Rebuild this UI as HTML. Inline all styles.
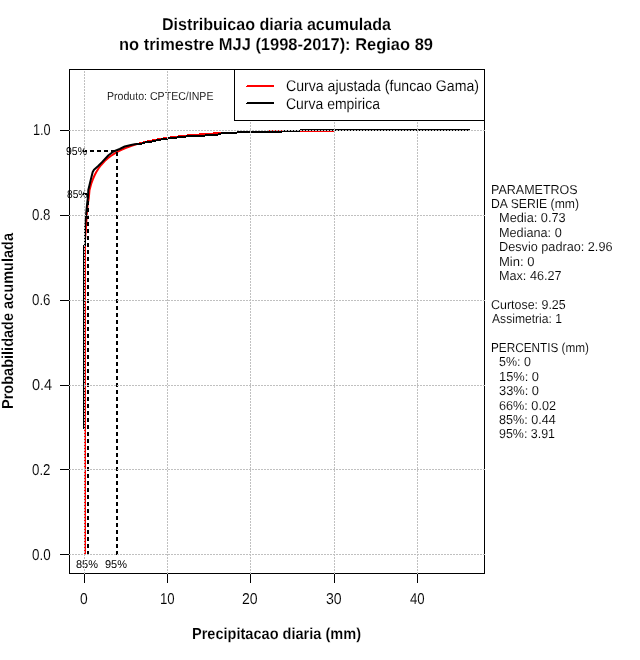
<!DOCTYPE html>
<html><head><meta charset="utf-8"><style>
html,body{margin:0;padding:0;background:#fff;width:640px;height:660px;overflow:hidden}
svg{display:block;will-change:transform}
text{font-family:"Liberation Sans", sans-serif;fill:#000;text-rendering:geometricPrecision;white-space:pre;stroke:#fff;stroke-width:0.1px}
text[font-weight=bold]{stroke-width:0.15px}
#p95a,#p85a,#p85b,#p95b{stroke:none}
</style></head><body>
<svg width="640" height="660" viewBox="0 0 640 660">
<rect x="0" y="0" width="640" height="660" fill="#fff"/>
<g shape-rendering="crispEdges" stroke="#000" stroke-width="1" fill="none">
<rect x="69.5" y="69.5" width="415" height="504"/>
<path d="M60 130.5H69M60 215.5H69M60 300.5H69M60 385.5H69M60 469.5H69M60 554.5H69"/>
<path d="M84.5 573V583M167.5 573V583M250.5 573V583M334.5 573V583M417.5 573V583"/>
</g>
<g fill="#f00" shape-rendering="crispEdges"><rect x="136" y="143" width="3" height="2"/><rect x="139" y="142" width="4" height="2"/><rect x="143" y="141" width="4" height="2"/><rect x="147" y="140" width="5" height="2"/><rect x="152" y="139" width="5" height="2"/><rect x="157" y="138" width="6" height="2"/><rect x="163" y="137" width="7" height="2"/><rect x="170" y="136" width="8" height="2"/><rect x="178" y="135" width="9" height="2"/><rect x="187" y="134" width="12" height="2"/><rect x="199" y="133" width="14" height="2"/><rect x="213" y="132" width="24" height="2"/><rect x="237" y="131" width="32" height="2"/><rect x="269" y="130" width="65" height="2"/><rect x="334" y="129" width="136" height="2"/><rect x="84" y="236" width="2" height="319"/></g>
<path d="M85.0 240.0 L86.0 228.0 L86.8 214.0 L87.6 205.0 L88.8 198.0 L89.5 190.12 L91.16 184.04 L92.83 179.33 L94.49 175.5 L96.16 172.28 L98.65 168.27 L101.15 164.96 L104.48 161.31 L107.81 158.3 L111.14 155.75 L114.47 153.56 L117.8 151.65 L121.96 149.59 L126.12 147.8 L130.29 146.24 L134.45 144.87 L136.53 144.24" fill="none" stroke="#f00" stroke-width="2" stroke-linejoin="round"/>
<g fill="#000" shape-rendering="crispEdges"><rect x="136" y="143" width="6" height="2"/><rect x="142" y="142" width="3" height="2"/><rect x="145" y="141" width="7" height="2"/><rect x="152" y="140" width="4" height="2"/><rect x="156" y="139" width="5" height="2"/><rect x="161" y="138" width="7" height="2"/><rect x="168" y="137" width="9" height="2"/><rect x="177" y="136" width="9" height="2"/><rect x="186" y="135" width="19" height="2"/><rect x="205" y="134" width="13" height="2"/><rect x="218" y="133" width="3" height="2"/><rect x="221" y="132" width="16" height="2"/><rect x="237" y="131" width="45" height="2"/><rect x="282" y="130" width="18" height="2"/><rect x="300" y="129" width="170" height="2"/><rect x="83" y="245" width="2" height="184"/></g>
<path d="M85.0 246 L85.0 228 L85.6 221 L86.5 210 L87.3 202 L88.0 197 L88.3 190 L89.4 185.5 L91.2 178 L92.7 172 L94 169.7 L98.2 166 L101.8 162.4 L108.5 155.2 L113.5 151.5 L119.75 149 L124.75 146.5 L131 145 L136 144" fill="none" stroke="#000" stroke-width="2" stroke-linejoin="round"/>
<g shape-rendering="crispEdges" stroke="#000" stroke-width="2" fill="none" stroke-dasharray="4 3">
<path d="M83 151H117"/>
<path d="M117 152V555"/>
<path d="M83 194H88"/>
<path d="M88 194V555"/>
</g>
<text id="t1" x="162" y="30" font-size="17" font-weight="bold" textLength="229" lengthAdjust="spacingAndGlyphs">Distribuicao diaria acumulada</text>
<text id="t2" x="119" y="50" font-size="17" font-weight="bold" textLength="314" lengthAdjust="spacingAndGlyphs">no trimestre MJJ (1998-2017): Regiao 89</text>
<text id="xlab" x="192" y="639" font-size="16" font-weight="bold" textLength="169" lengthAdjust="spacingAndGlyphs">Precipitacao diaria (mm)</text>
<text id="ylab" x="13" y="409" font-size="16" font-weight="bold" textLength="176" lengthAdjust="spacingAndGlyphs" transform="rotate(-90 13 409)">Probabilidade acumulada</text>
<text id="y0" x="32" y="560" font-size="15.7" textLength="18.7" lengthAdjust="spacingAndGlyphs">0.0</text>
<text id="y2" x="32" y="475" font-size="15.7" textLength="18.5" lengthAdjust="spacingAndGlyphs">0.2</text>
<text id="y4" x="32" y="390" font-size="15.7" textLength="20.2" lengthAdjust="spacingAndGlyphs">0.4</text>
<text id="y6" x="32" y="305" font-size="15.7" textLength="18.5" lengthAdjust="spacingAndGlyphs">0.6</text>
<text id="y8" x="32" y="220" font-size="15.7" textLength="18.5" lengthAdjust="spacingAndGlyphs">0.8</text>
<text id="y10" x="33" y="135" font-size="15.7" textLength="17.7" lengthAdjust="spacingAndGlyphs">1.0</text>
<text id="x0" x="80" y="604" font-size="15.7" textLength="7.7" lengthAdjust="spacingAndGlyphs">0</text>
<text id="x10" x="160" y="604" font-size="15.7" textLength="14.7" lengthAdjust="spacingAndGlyphs">10</text>
<text id="x20" x="242" y="604" font-size="15.7" textLength="15.7" lengthAdjust="spacingAndGlyphs">20</text>
<text id="x30" x="326" y="604" font-size="15.7" textLength="15.7" lengthAdjust="spacingAndGlyphs">30</text>
<text id="x40" x="410" y="604" font-size="15.7" textLength="14.7" lengthAdjust="spacingAndGlyphs">40</text>
<text id="prod" x="107" y="100" font-size="11.6" textLength="106.5" lengthAdjust="spacingAndGlyphs">Produto: CPTEC/INPE</text>
<text id="p95a" x="66" y="155" font-size="11.3" textLength="21" lengthAdjust="spacingAndGlyphs">95%</text>
<text id="p85a" x="67" y="198" font-size="11.3" textLength="20.3" lengthAdjust="spacingAndGlyphs">85%</text>
<text id="p85b" x="76" y="568" font-size="11.3" textLength="22" lengthAdjust="spacingAndGlyphs">85%</text>
<text id="p95b" x="105" y="568" font-size="11.3" textLength="22" lengthAdjust="spacingAndGlyphs">95%</text>
<text id="m0" x="491" y="194" font-size="13" textLength="86.7" lengthAdjust="spacingAndGlyphs">PARAMETROS</text>
<text id="m1" x="491" y="208" font-size="13" textLength="88" lengthAdjust="spacingAndGlyphs">DA SERIE (mm)</text>
<text id="m2" x="499" y="222" font-size="13" textLength="66.7" lengthAdjust="spacingAndGlyphs">Media: 0.73</text>
<text id="m3" x="499" y="237" font-size="13" textLength="62.7" lengthAdjust="spacingAndGlyphs">Mediana: 0</text>
<text id="m4" x="499" y="251" font-size="13" textLength="113.5" lengthAdjust="spacingAndGlyphs">Desvio padrao: 2.96</text>
<text id="m5" x="499" y="266" font-size="13" textLength="35.5" lengthAdjust="spacingAndGlyphs">Min: 0</text>
<text id="m6" x="499" y="280" font-size="13" textLength="62.5" lengthAdjust="spacingAndGlyphs">Max: 46.27</text>
<text id="m8" x="491" y="309" font-size="13" textLength="74.7" lengthAdjust="spacingAndGlyphs">Curtose: 9.25</text>
<text id="m9" x="492" y="323" font-size="13" textLength="70" lengthAdjust="spacingAndGlyphs">Assimetria: 1</text>
<text id="m11" x="491" y="352" font-size="13" textLength="98" lengthAdjust="spacingAndGlyphs">PERCENTIS (mm)</text>
<text id="m12" x="499" y="366" font-size="13" textLength="31.8" lengthAdjust="spacingAndGlyphs">5%: 0</text>
<text id="m13" x="499" y="381" font-size="13" textLength="40" lengthAdjust="spacingAndGlyphs">15%: 0</text>
<text id="m14" x="499" y="395" font-size="13" textLength="40" lengthAdjust="spacingAndGlyphs">33%: 0</text>
<text id="m15" x="499" y="410" font-size="13" textLength="57" lengthAdjust="spacingAndGlyphs">66%: 0.02</text>
<text id="m16" x="499" y="424" font-size="13" textLength="56.7" lengthAdjust="spacingAndGlyphs">85%: 0.44</text>
<text id="m17" x="499" y="438" font-size="13" textLength="56" lengthAdjust="spacingAndGlyphs">95%: 3.91</text>
<path d="M69 130.5H485 M69 215.5H485 M69 300.5H485 M69 385.5H485 M69 469.5H485 M69 554.5H485 M84.5 574V70 M167.5 574V70 M250.5 574V70 M334.5 574V70 M417.5 574V70" stroke="#c0c0c0" stroke-width="1" stroke-dasharray="2 1" fill="none" shape-rendering="crispEdges"/>
<g shape-rendering="crispEdges">
<rect x="234.5" y="69.5" width="250" height="51" fill="#fff" stroke="#000" stroke-width="1"/>
<path d="M247 85h27v2h-28v-1h1z" fill="#f00"/>
<path d="M247 102h27v2h-28v-1h1z" fill="#000"/>
</g>
<text id="leg1" x="286" y="91" font-size="15.5" textLength="193" lengthAdjust="spacingAndGlyphs">Curva ajustada (funcao Gama)</text>
<text id="leg2" x="286" y="109" font-size="15.5" textLength="94" lengthAdjust="spacingAndGlyphs">Curva empirica</text>
</svg></body></html>
